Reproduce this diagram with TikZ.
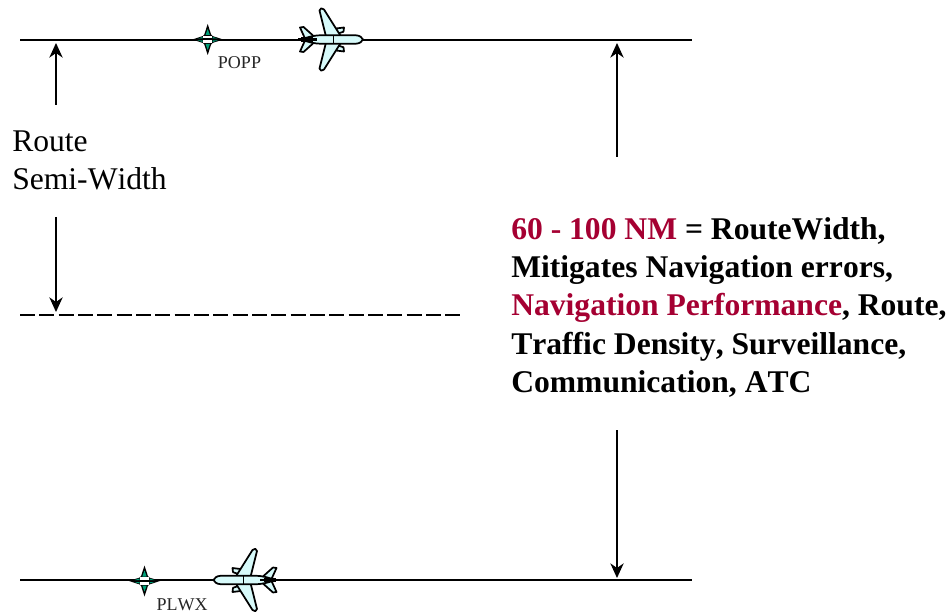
\documentclass[tikz,border=0pt]{standalone}
\usepackage{fontspec}
\setmainfont[Kerning=Off]{Liberation Serif}
\usetikzlibrary{arrows.meta}
\definecolor{hilite}{RGB}{165,0,50}
\definecolor{teal2}{RGB}{0,160,120}
\definecolor{planefill}{RGB}{215,250,250}
\tikzset{
  x=0.75pt,y=-0.75pt,
  route/.style={line width=1.5pt,black},
  routedash/.style={line width=1.5pt,black,dash pattern=on 11.2pt off 3.3pt},
  dim/.style={line width=1pt,black,-{Stealth[length=11pt,width=10pt,inset=3.5pt]}},
  body/.style={font=\fontsize{23.7}{28.75}\selectfont\bfseries,align=left,anchor=north west,inner sep=0pt},
  plain/.style={font=\fontsize{23.7}{28.5}\selectfont,align=left,anchor=north west,inner sep=0pt},
  tag/.style={font=\fontsize{13.5}{15}\selectfont,inner sep=0pt,text=black!85},
  plane/.pic={
    \begin{scope}[line width=1.3pt,draw=black,fill=planefill,line join=round]
      % engines
      \filldraw (-27,-11) -- (-19,-12) -- (-19.5,-7.8) -- (-25,-6) -- cycle;
      \filldraw (-27,11) -- (-19,12) -- (-19.5,7.8) -- (-25,6) -- cycle;
      % wings
      \filldraw (-37,-3) -- (-43.5,-29) .. controls (-43.5,-31.5) and (-40.5,-32) .. (-39,-30) -- (-22,-3) -- cycle;
      \filldraw (-37,3) -- (-43.5,29) .. controls (-43.5,31.5) and (-40.5,32) .. (-39,30) -- (-22,3) -- cycle;
      % tail
      \filldraw (-58,-1) -- (-63,-12) -- (-59.5,-12.5) -- (-50,-4) -- (-47,-1) -- cycle;
      \filldraw (-58,1) -- (-63,12) -- (-59.5,12.5) -- (-50,4) -- (-47,1) -- cycle;
      % fuselage
      \filldraw (-62,0) .. controls (-56,-2) and (-50,-4.2) .. (-42,-4.2) -- (-7,-4.2) .. controls (-3,-4) and (-1,-2) .. (0,0) .. controls (-1,2) and (-3,4) .. (-7,4.2) -- (-42,4.2) .. controls (-50,4.2) and (-56,2) .. (-62,0) -- cycle;
      \draw[line width=2.2pt] (-65,0) -- (-46,0);
      \draw[line width=0.9pt] (-62,-1.8) -- (-50,-1.8) (-62,1.8) -- (-50,1.8);
      \draw[line width=0.5pt] (-30,-4.2) -- (-30,4.2);
    \end{scope}
  },
  fix/.pic={
    \fill[black] (0,-15.5) -- (3.4,-5) -- (5,-3.4) -- (15.5,0) -- (5,3.4) -- (3.4,5) -- (0,15.5) -- (-3.4,5) -- (-5,3.4) -- (-15.5,0) -- (-5,-3.4) -- (-3.4,-5) -- cycle;
    \fill[teal2] (0,-10.5) -- (2.2,-4.5) -- (-2.2,-4.5) -- cycle;
    \fill[teal2] (0,10.5) -- (2.2,4.5) -- (-2.2,4.5) -- cycle;
    \fill[teal2] (-10,-1) -- (-5,-2.5) -- (-5,-1) -- cycle;
    \fill[teal2] (-10,1) -- (-5,2.5) -- (-5,1) -- cycle;
    \fill[teal2] (10,-1) -- (5,-2.5) -- (5,-1) -- cycle;
    \fill[teal2] (10,1) -- (5,2.5) -- (5,1) -- cycle;
    \fill[white] (-4.5,-3.8) rectangle (4.5,-1);
    \fill[white] (-4.5,1) rectangle (4.5,3.8);
  }
}
\begin{document}
\begin{tikzpicture}
\useasboundingbox[fill=white] (0,0) rectangle (952,616);
% end points
\coordinate (topL) at (20,39.7);
\coordinate (topR) at (692,39.7);
\coordinate (midL) at (20,315);
\coordinate (midR) at (460,315);
\coordinate (botL) at (20,580);
\coordinate (botR) at (692,580);
\coordinate (a1s) at (56,105);
\coordinate (a1e) at (56,43);
\coordinate (a2s) at (56,217);
\coordinate (a2e) at (56,312);
\coordinate (a3s) at (617,157);
\coordinate (a3e) at (617,43);
\coordinate (a4s) at (617,430);
\coordinate (a4e) at (617,578);
% lines
\draw[route] (topL) -- (topR);
\draw[routedash] (midL) -- (midR);
\draw[route] (botL) -- (botR);
% dimension arrows
\draw[dim] (a1s) -- (a1e);
\draw[dim] (a2s) -- (a2e);
\draw[dim] (a3s) -- (a3e);
\draw[dim] (a4s) -- (a4e);
% waypoints and aircraft
\pic at (207.7,39.5) {fix};
\pic at (144.5,581) {fix};
\pic at (363,39.5) {plane};
\pic[xscale=-1] at (213.5,580) {plane};
% labels
\node[tag] (popp) at (239.5,63) {POPP};
\node[tag] (plwx) at (182,605) {PLWX};
\node[plain] (semi) at (12,131) {Route\\Semi-Width};
\node[body] (info) at (511,217) {\textcolor{hilite}{60 - 100 NM} = RouteWidth,\\Mitigates Navigation errors,\\\textcolor{hilite}{Navigation Performance}, Route,\\Traffic Density, Surveillance,\\Communication, ATC};
\end{tikzpicture}
\end{document}
